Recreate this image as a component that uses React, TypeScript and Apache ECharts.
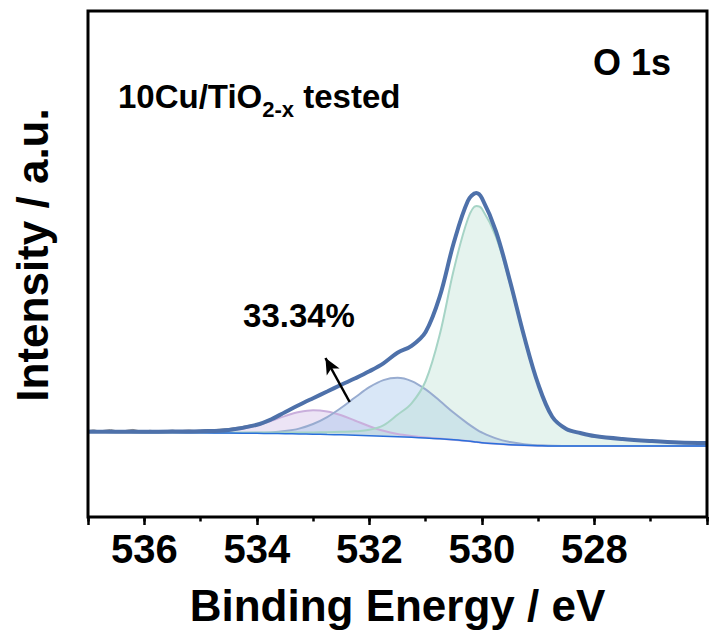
import React, { useEffect, useRef } from "react";
import * as echarts from "echarts";

// Binding energy grid (eV) of the fitted curves
const energy = [537, 536.5, 536, 535.5, 535, 534.5, 534, 533.75, 533.5, 533.25, 533, 532.75, 532.5, 532.25, 532, 531.75, 531.5, 531.25, 531, 530.75, 530.5, 530.25, 530.1, 530, 529.75, 529.5, 529.25, 529, 528.75, 528.5, 528.25, 528, 527.5, 527, 526.5, 526];

// Shirley background (a.u.)
const background = [85, 84.8, 84.6, 84.4, 84.2, 84, 83.7, 83.5, 83.3, 83, 82.8, 82.5, 82.2, 81.7, 81.2, 80.7, 80.2, 79.7, 79, 78.2, 77.2, 76, 75, 74.3, 73.2, 72.3, 71.7, 71.3, 71, 71, 71, 71, 71, 71, 71, 71];

// Fitted components, height above background (a.u.)
const latticeO = [0, 0, 0, 0.2, 0.3, 0.5, 0.7, 0.9, 1.1, 1.4, 1.8, 2.3, 3, 4, 6, 11, 22, 34, 57, 104, 170, 222, 236, 234, 207, 161, 108, 61, 29, 17, 13, 10, 7, 5, 3.5, 3];
const vacancyO = [0, 0, 0, 0, 0, 0.05, 0.45, 1.1, 2.6, 5.4, 10.2, 17.4, 27, 38, 48.6, 56.2, 59, 56.2, 48.6, 38, 27, 17.4, 12.7, 10.2, 5.4, 2.6, 1.1, 0.45, 0.16, 0.05, 0, 0, 0, 0, 0, 0];
const adsorbedO = [0, 0, 0, 0.03, 0.33, 2.1, 7.8, 12.5, 17.6, 21.9, 24, 23, 19.5, 14.6, 9.6, 5.5, 2.8, 1.3, 0.5, 0.2, 0, 0, 0, 0, 0, 0, 0, 0, 0, 0, 0, 0, 0, 0, 0, 0];

// Fit envelope (a.u.)
const envelope = [85.3, 85.2, 85.2, 85.4, 85.8, 87, 92.2, 97.5, 104.8, 112, 118.8, 125.5, 132.2, 138.7, 145.7, 153.7, 164.2, 171.2, 185.1, 220.4, 274.2, 316, 324, 318.8, 285.7, 235.8, 180.7, 132.8, 100.2, 88, 84, 81, 78, 76, 74.5, 74];

// Measured spectrum
const rawEnergy = [537.0, 536.9, 536.8, 536.7, 536.6, 536.5, 536.4, 536.3, 536.2, 536.1, 536.0, 535.9, 535.8, 535.7, 535.6, 535.5, 535.4, 535.3, 535.2, 535.1, 535.0, 534.9, 534.8, 534.7, 534.6, 534.5, 534.4, 534.3, 534.2, 534.1, 534.0, 533.75, 533.5, 533.25, 533, 532.75, 532.5, 532.25, 532, 531.75, 531.5, 531.25, 531, 530.75, 530.5, 530.25, 530.1, 530, 529.75, 529.5, 529.25, 529, 528.75, 528.5, 528.25, 528, 527.5, 527, 526.5, 526];
const rawCounts = [86.5, 87.2, 86.0, 86.8, 87.5, 86.3, 85.8, 86.9, 87.6, 86.4, 85.9, 86.7, 86.2, 85.6, 86.4, 86.9, 86.1, 86.6, 87.0, 86.4, 86.8, 87.3, 87.0, 87.6, 88.0, 88.4, 89.3, 90.0, 91.2, 92.0, 93.0, 97.0, 105.8, 111.2, 119.6, 124.8, 133.0, 138.0, 146.5, 153.0, 165.0, 170.5, 185.8, 219.6, 273.5, 316.8, 323.2, 319.5, 285.0, 236.5, 180.0, 133.4, 99.6, 88.5, 83.6, 81.4, 77.6, 76.3, 74.2, 74.3];

const xTickLabels = [536, 534, 532, 530, 528];
const arrowFrom = [532.35, 115];
const arrowTo = [532.78, 159];
const percentLabel = "33.34%";

const FONT = "'Liberation Sans', Arial, Helvetica, sans-serif";

function pairs(vals: number[]) {
  return energy.map((e, i) => [e, vals[i]]);
}

function component(name: string, vals: number[], line: string, fill: string) {
  return {
    type: "line",
    name,
    data: energy.map((e, i) => [e, background[i] + vals[i]]),
    symbol: "none",
    smooth: 0.35,
    silent: true,
    z: 2,
    lineStyle: { color: line, width: 2 },
    areaStyle: { color: fill, origin: "start" },
  };
}

export default function App() {
  const ref = useRef<HTMLDivElement>(null);
  useEffect(() => {
    if (!ref.current) return;
    const chart = echarts.init(ref.current, null, { renderer: "svg" });
    const option: any = {
      animation: false,
      grid: {
        left: 88,
        top: 11,
        width: 639,
        height: 506,
        show: true,
        z: 10,
        borderColor: "#000",
        borderWidth: 3,
        backgroundColor: "transparent",
      },
      xAxis: [
        {
          type: "value",
          min: 526,
          max: 537,
          interval: 2,
          inverse: true,
          position: "bottom",
          axisLine: { show: false },
          splitLine: { show: false },
          axisTick: { show: true, length: 8, lineStyle: { color: "#000", width: 2.5 } },
          axisLabel: {
            formatter: (v: number) => (xTickLabels.includes(v) ? String(v) : ""),
            fontSize: 40,
            fontWeight: "bold",
            color: "#000",
            fontFamily: FONT,
            margin: 12,
          },
          name: "Binding Energy / eV",
          nameLocation: "middle",
          nameGap: 66,
          nameTextStyle: { fontSize: 44, fontWeight: "bold", color: "#000", fontFamily: FONT },
        },
        {
          type: "value",
          min: 526,
          max: 537,
          interval: 1,
          inverse: true,
          position: "bottom",
          axisLine: { show: false },
          splitLine: { show: false },
          axisTick: { show: true, length: 4.5, lineStyle: { color: "#000", width: 2.5 } },
          axisLabel: { show: false },
        },
      ],
      yAxis: {
        type: "value",
        min: 0,
        max: 506,
        axisLine: { show: false },
        axisTick: { show: false },
        axisLabel: { show: false },
        splitLine: { show: false },
      },
      series: [
        component("O-H / H2O", adsorbedO, "#c9afdc", "rgba(200,178,226,0.5)"),
        component("O vacancy", vacancyO, "#98acd0", "rgba(155,192,234,0.55)"),
        component("Lattice O", latticeO, "#a6d4c6", "rgba(188,224,210,0.55)"),
        {
          type: "line",
          name: "below-background",
          data: pairs(background),
          symbol: "none",
          smooth: 0.35,
          silent: true,
          z: 2,
          lineStyle: { width: 0, opacity: 0 },
          areaStyle: { color: "#ffffff", opacity: 1, origin: "start" },
        },
        {
          type: "line",
          name: "Background",
          data: pairs(background),
          symbol: "none",
          smooth: 0.35,
          z: 2,
          lineStyle: { color: "#2a6fdb", width: 1.5 },
        },
        {
          type: "line",
          name: "Raw",
          data: rawEnergy.map((e, i) => [e, rawCounts[i]]),
          symbol: "none",
          z: 2,
          lineStyle: { color: "#8a8a8a", width: 1 },
        },
        {
          type: "line",
          name: "Envelope",
          data: pairs(envelope),
          symbol: "none",
          smooth: 0.35,
          z: 2,
          lineStyle: { color: "#4e71aa", width: 4 },
          markLine: {
            silent: true,
            symbol: ["none", "arrow"],
            symbolSize: [11, 16],
            label: { show: false },
            lineStyle: { color: "#000", width: 2.5, type: "solid" },
            data: [[{ coord: arrowFrom }, { coord: arrowTo }]],
          },
        },
      ],
      graphic: [
        {
          type: "text",
          x: 32,
          y: 255,
          rotation: Math.PI / 2,
          style: {
            text: "Intensity / a.u.",
            fontSize: 44,
            fontWeight: "bold",
            fontFamily: FONT,
            fill: "#000",
            align: "center",
            verticalAlign: "middle",
          },
        },
        {
          type: "text",
          x: 632,
          y: 62,
          style: {
            text: "O 1s",
            fontSize: 36,
            fontWeight: "bold",
            fontFamily: FONT,
            fill: "#000",
            align: "center",
            verticalAlign: "middle",
          },
        },
        {
          type: "text",
          x: 118,
          y: 80,
          style: {
            text: "{a|10Cu/TiO}{s|2-x}{a| tested}",
            fill: "#000",
            rich: {
              a: { fontSize: 33, fontWeight: "bold", fontFamily: FONT, lineHeight: 34, verticalAlign: "top" },
              s: { fontSize: 22, fontWeight: "bold", fontFamily: FONT, lineHeight: 22, verticalAlign: "top", padding: [18, 0, 0, 0] },
            },
          },
        },
        {
          type: "text",
          x: 299,
          y: 315,
          style: {
            text: percentLabel,
            fontSize: 33,
            fontWeight: "bold",
            fontFamily: FONT,
            fill: "#000",
            align: "center",
            verticalAlign: "middle",
          },
        },
      ],
    };
    chart.setOption(option);
    return () => chart.dispose();
  }, []);
  return (
    <div
      ref={ref}
      style={{ position: "fixed", left: 0, top: 0, width: 710, height: 637, background: "#fff" }}
    />
  );
}
